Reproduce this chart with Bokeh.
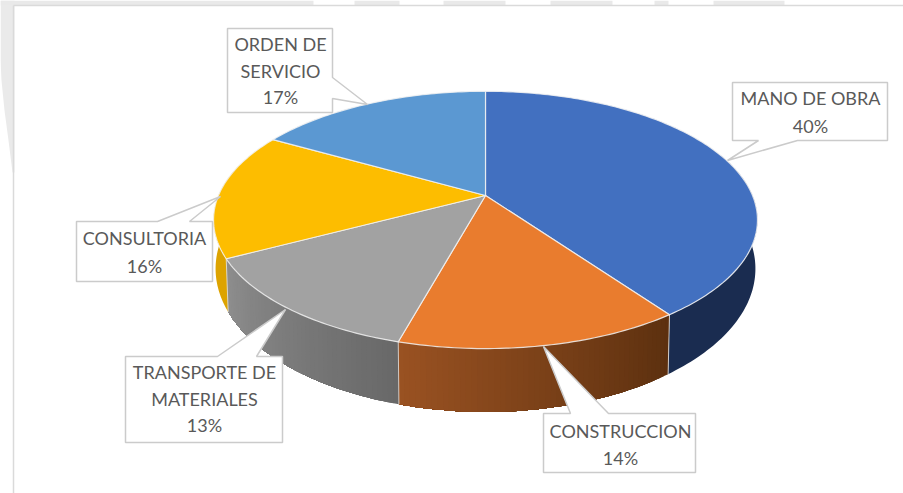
import math
from bokeh.plotting import figure
from bokeh.models import Range1d
from bokeh.core.properties import value
from bokeh.embed import file_html
from bokeh.resources import INLINE

# --- data (labels show these rounded)
categories = ["MANO DE OBRA", "CONSTRUCCION", "TRANSPORTE DE MATERIALES", "CONSULTORIA", "ORDEN DE SERVICIO"]
shares = [40.1, 14.2, 13.0, 15.9, 16.8]
top_colors = ["#4270C0", "#E97C2E", "#A2A2A2", "#FDBD00", "#5B98D2"]
wall_start = ["#1A2C50", "#5C300F", "#686868", "#DDA300", None]
wall_end = ["#1A2C50", "#9A5222", "#8E8E8E", "#DDA300", None]
label_lines = [["MANO DE OBRA", "40%"], ["CONSTRUCCION", "14%"], ["TRANSPORTE DE", "MATERIALES", "13%"],
               ["CONSULTORIA", "16%"], ["ORDEN DE", "SERVICIO", "17%"]]
label_center_x = [810, 620, 204, 144, 280]
label_line_y = [[97, 125], [430, 457], [371, 398, 424], [237, 265], [43, 70, 96]]
callouts = [
    [(732, 82), (887, 82), (887, 140), (797, 140), (727, 160), (758, 140), (732, 140)],
    [(543, 413), (570, 413), (543, 346), (608, 413), (695, 413), (695, 472), (543, 472)],
    [(125, 356), (217, 356), (285, 309), (256, 356), (282, 356), (282, 442), (125, 442)],
    [(76, 221), (157, 221), (220, 196), (189, 221), (212, 221), (212, 281), (76, 281)],
    [(227, 28), (332, 28), (332, 77), (367, 104), (332, 98), (332, 112), (227, 112)],
]
band_left = [0, 354, 443, 550, 654, 713]
band_right = [313, 399, 505, 612, 668, 784]
wedge_x = [0, 14, 14, 12, 8, 4, 1, 0]
wedge_y = [0, 0, 172, 172, 140, 110, 80, 60]

# --- projection of a round pie seen in perspective
CX, PERSP = 485.0, 0.19
TOP = (267.0, 124.0, 195.0)
BOTTOM = (265.0, 138.0, 241.0)


def project(deg, disc, r=1.0):
    sx, sy, y0 = disc
    t = math.radians(deg)
    u, v = r * math.sin(t), r * math.cos(t)
    d = 1 + PERSP * v
    return CX + sx * u / d, y0 - sy * v / d


def hex_mix(a, b, f):
    ca = [int(a[i:i + 2], 16) for i in (1, 3, 5)]
    cb = [int(b[i:i + 2], 16) for i in (1, 3, 5)]
    return "#%02x%02x%02x" % tuple(round(x + (y - x) * f) for x, y in zip(ca, cb))


total = sum(shares)
edges = [0.0]
for s in shares:
    edges.append(edges[-1] + 360.0 * s / total)

p = figure(width=903, height=493, output_backend="svg", toolbar_location=None,
           x_range=Range1d(0, 903), y_range=Range1d(493, 0), min_border=0)
p.axis.visible = False
p.grid.visible = False
p.outline_line_color = None
p.background_fill_color = "white"
p.border_fill_color = "white"

# faint page frame and watermark bands behind the chart
p.patch(wedge_x, wedge_y, fill_color="#EAEAEA", line_color=None)
p.quad(left=band_left, right=band_right, top=[0] * len(band_left), bottom=[5] * len(band_left),
       fill_color="#E9E9E9", line_color=None)
p.line([13, 13], [5, 493], line_color="#DADADA", line_width=1.5)
p.line([13, 903], [5, 5], line_color="#DADADA", line_width=1.5)

# side walls, drawn as overlapping narrow strips so that they can shade along the rim
for i in range(len(shares)):
    if wall_start[i] is None:
        continue
    a0 = edges[i] if i != 0 else 70.0
    a1 = edges[i + 1] if i != 3 else 285.0
    n = max(2, int(a1 - a0))
    if wall_start[i] == wall_end[i]:
        P = [project(a0 + (a1 - a0) * k / n, TOP) for k in range(n + 1)]
        P += [project(a1 - (a1 - a0) * k / n, BOTTOM) for k in range(n + 1)]
        p.patch([q[0] for q in P], [q[1] for q in P], fill_color=wall_start[i], line_color=None)
        continue
    for k in range(n):
        t0 = a0 + (a1 - a0) * k / n
        t1 = a1
        m = max(2, int(t1 - t0))
        P = [project(t0 + (t1 - t0) * j / m, TOP) for j in range(m + 1)]
        P += [project(t1 - (t1 - t0) * j / m, BOTTOM) for j in range(m + 1)]
        col = hex_mix(wall_start[i], wall_end[i], (k + 0.5) / n)
        p.patch([q[0] for q in P], [q[1] for q in P], fill_color=col, line_color=None)

# seams between walls
for e in edges[1:4]:
    a, b = project(e, TOP), project(e, BOTTOM)
    p.line([a[0], b[0]], [a[1], b[1]], line_color="#E6E6E6", line_width=1, line_alpha=0.8)

# top face
for i in range(len(shares)):
    a0, a1 = edges[i], edges[i + 1]
    n = max(2, int(a1 - a0))
    pts = [(CX, TOP[2])] + [project(a0 + (a1 - a0) * k / n, TOP) for k in range(n + 1)]
    p.patch([q[0] for q in pts], [q[1] for q in pts], fill_color=top_colors[i],
            line_color="#F2F2F2", line_width=1.2, line_alpha=0.85, line_join="round")

# callouts
for poly in callouts:
    p.patch([q[0] for q in poly], [q[1] for q in poly], fill_color="white",
            line_color="#CBCBCB", line_width=1.5)

for lines, cx, ys in zip(label_lines, label_center_x, label_line_y):
    p.text(x=[cx] * len(lines), y=ys, text=lines, text_align="center", text_baseline="middle",
           text_font=value("Lato"), text_font_size="18px", text_color="#595959")

open("out.html", "w").write(file_html(p, INLINE))
